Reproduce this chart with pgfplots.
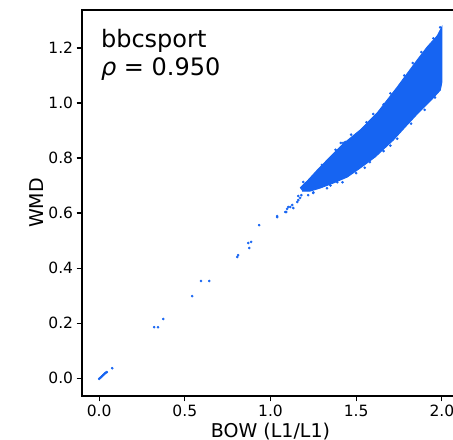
\documentclass[border=0pt]{standalone}
\usepackage{fontspec}
\setmainfont{DejaVu Sans}
\usepackage{pgfplots}
\pgfplotsset{compat=1.18}
\definecolor{ptblue}{RGB}{22,100,242}

\begin{document}
\begin{tikzpicture}
\useasboundingbox (-82bp,-44bp) rectangle (371bp,396bp);
\begin{axis}[
  at={(0,0)}, anchor=south west,
  scale only axis, width=377bp, height=386bp,
  xmin=-0.1, xmax=2.1, ymin=-0.065, ymax=1.338,
  xtick={0,0.5,1,1.5,2}, ytick={0,0.2,0.4,0.6,0.8,1.0,1.2},
  xtick pos=bottom, ytick pos=left,
  tick align=outside, major tick length=5.4bp,
  every tick/.style={line width=1.1bp, black},
  axis line style={line width=1.1bp, black},
  /pgf/number format/assume math mode=true,
  xticklabel style={/pgf/number format/fixed, /pgf/number format/fixed zerofill, /pgf/number format/precision=1},
  yticklabel style={/pgf/number format/fixed, /pgf/number format/fixed zerofill, /pgf/number format/precision=1},
  ticklabel style={font=\fontsize{15.5bp}{18bp}\selectfont},
  xlabel={BOW (L1/L1)}, ylabel={WMD},
  label style={font=\fontsize{19bp}{22bp}\selectfont},
  xlabel style={at={(axis description cs:0.5,-0.1088)}, anchor=base},
  ylabel style={at={(axis description cs:-0.1034,0.5)}, anchor=base},
]
% dense band (outline)
\addplot[fill=ptblue, draw=ptblue, line width=1bp] table {
x y
1.173 0.691
1.220 0.720
1.273 0.756
1.331 0.793
1.424 0.851
1.524 0.902
1.623 0.964
1.740 1.058
1.856 1.156
1.915 1.204
1.973 1.244
2.000 1.276
2.000 1.076
1.991 1.047
1.938 1.011
1.862 0.964
1.786 0.913
1.716 0.865
1.611 0.804
1.524 0.764
1.448 0.731
1.366 0.709
1.290 0.691
1.232 0.680
1.185 0.680
};
% scattered points
\addplot[only marks, mark=*, mark size=1.1bp, color=ptblue, mark options={draw=none, fill=ptblue}] table {
x y
0.000 -0.003
0.005 0.000
0.010 0.003
0.015 0.006
0.020 0.009
0.025 0.012
0.030 0.015
0.035 0.018
0.040 0.020
0.045 0.022
0.076 0.036
0.321 0.185
0.344 0.185
0.374 0.215
0.543 0.298
0.595 0.353
0.642 0.353
0.806 0.440
0.811 0.447
0.870 0.491
0.887 0.495
0.876 0.473
0.934 0.556
1.039 0.585
1.039 0.589
1.086 0.604
1.092 0.604
1.097 0.615
1.103 0.622
1.115 0.622
1.127 0.629
1.133 0.618
1.156 0.640
1.162 0.662
1.162 0.647
1.173 0.655
1.191 0.713
1.214 0.684
1.232 0.695
1.249 0.673
1.261 0.702
1.290 0.731
1.302 0.764
1.331 0.749
1.424 0.855
1.436 0.858
1.465 0.756
1.565 0.800
1.180 0.665
1.200 0.700
1.220 0.665
1.260 0.715
1.280 0.700
1.310 0.720
1.340 0.770
1.350 0.700
1.370 0.800
1.390 0.712
1.400 0.820
1.440 0.735
1.300 0.775
1.380 0.830
1.470 0.885
1.560 0.930
1.660 0.995
1.700 1.035
1.780 1.100
1.830 1.145
1.880 1.185
1.950 1.235
1.990 1.275
1.410 0.855
1.600 0.960
1.250 0.675
1.330 0.690
1.420 0.712
1.500 0.745
1.580 0.785
1.660 0.825
1.740 0.870
1.820 0.925
1.900 0.975
1.960 1.020
1.550 0.765
1.700 0.845
};
\node[anchor=north west, inner sep=0pt, align=left, font=\fontsize{24bp}{27.5bp}\selectfont] at (rel axis cs:0.05,0.95) {bbcsport\\\textit{ρ} = 0.950};
\end{axis}
\end{tikzpicture}
\end{document}
